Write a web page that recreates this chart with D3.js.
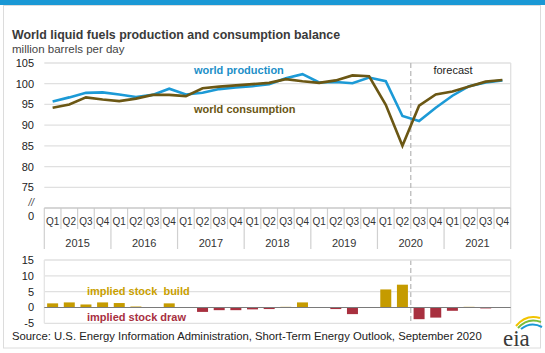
<!DOCTYPE html>
<html>
<head>
<meta charset="utf-8">
<script src="https://cdn.jsdelivr.net/npm/d3@7"></script>
<style>
  body { margin: 0; background: #fff; }
  svg { display: block; font-family: "Liberation Sans", Arial, sans-serif; }
</style>
</head>
<body>
<svg width="545" height="353"></svg>
<script>
// quarterly data, 2015 Q1 .. 2021 Q4
var years = ['2015', '2016', '2017', '2018', '2019', '2020', '2021'];
var quarterNames = ['Q1', 'Q2', 'Q3', 'Q4'];
var production = [95.7, 96.7, 97.8, 97.9, 97.4, 96.8, 97.3, 98.8, 97.4, 97.8, 98.7, 99.1, 99.4, 99.9,
                  101.3, 102.3, 100.3, 100.4, 100.1, 101.5, 100.6, 92.2, 91.0, 94.2, 97.1, 99.4, 100.3, 100.8];
var consumption = [94.2, 95.0, 96.7, 96.2, 95.8, 96.4, 97.3, 97.3, 97.0, 98.9, 99.3, 99.6, 99.9, 100.2,
                   101.1, 100.6, 100.2, 100.8, 102.0, 101.8, 94.9, 85.0, 94.7, 97.4, 98.1, 99.3, 100.5, 100.9];
var stockChange = [1.3, 1.6, 0.95, 1.6, 1.4, 0.3, 0.05, 1.3, 0.1, -1.4, -0.85, -0.85, -0.6, -0.5,
                   0.2, 1.6, -0.1, -0.5, -2.1, -0.1, 5.7, 7.2, -3.7, -3.2, -1.05, 0.2, -0.3, -0.1];
var topTicks = [75, 80, 85, 90, 95, 100, 105];
var bottomTicks = [-5, 0, 5, 10, 15];

var quarters = [];
years.forEach(function(y) {
    quarterNames.forEach(function(q) { quarters.push(y + q); });
});

var svg = d3.select('svg');
var left = 44.3, right = 510.7;

// frame
svg.append('rect').attr('x', 0).attr('y', 0).attr('width', 545).attr('height', 5).style('fill', '#1a98d5');
svg.append('rect').attr('x', 3.5).attr('y', 5.5).attr('width', 537).attr('height', 342.5)
    .style('fill', 'none').style('stroke', '#dcdcdc');

svg.append('text').attr('x', 12).attr('y', 39)
    .style('font-size', '12.4px').style('font-weight', 'bold').style('fill', '#3a3a3a')
    .text('World liquid fuels production and consumption balance');
svg.append('text').attr('x', 12).attr('y', 53)
    .style('font-size', '11.5px').style('fill', '#444')
    .text('million barrels per day');

var xScale = d3.scaleBand().domain(quarters).range([left, right]);
var xPoint = function(i) { return xScale(quarters[i]) + xScale.bandwidth() / 2; };

var yTop = d3.scaleLinear().domain([70, 105]).range([208, 63]);
var yBot = d3.scaleLinear().domain([-5, 15]).range([323.3, 260]);

// top grid
svg.append('g').selectAll('line')
    .data(topTicks)
    .enter()
    .append('line')
    .attr('x1', left).attr('x2', right)
    .attr('y1', function(d) { return yTop(d); })
    .attr('y2', function(d) { return yTop(d); })
    .style('stroke', '#e0e0e0').style('stroke-width', 1.3);

svg.append('line').attr('x1', right).attr('x2', right).attr('y1', yTop(105)).attr('y2', 208)
    .style('stroke', '#e0e0e0').style('stroke-width', 1.3);

svg.append('g').selectAll('text')
    .data(topTicks)
    .enter()
    .append('text')
    .attr('x', 34).attr('y', function(d) { return yTop(d) + 4; })
    .attr('text-anchor', 'end')
    .style('font-size', '11px').style('fill', '#222')
    .text(function(d) { return d; });

svg.append('text').attr('x', 34).attr('y', 206).attr('text-anchor', 'end')
    .style('font-size', '10px').style('font-style', 'italic').style('fill', '#444').text('//');
svg.append('text').attr('x', 34).attr('y', 220).attr('text-anchor', 'end')
    .style('font-size', '11px').style('fill', '#222').text('0');

// category axis
var axisG = svg.append('g');
d3.range(quarters.length + 1).forEach(function(i) {
    var x = i < quarters.length ? xScale(quarters[i]) : right;
    axisG.append('line').attr('x1', x).attr('x2', x)
        .attr('y1', 208).attr('y2', i % 4 === 0 ? 249 : 229)
        .style('stroke', '#d0d0d0').style('stroke-width', 1.2);
});
axisG.append('line').attr('x1', left).attr('x2', right).attr('y1', 208).attr('y2', 208)
    .style('stroke', '#c8c8c8').style('stroke-width', 1.3);
axisG.selectAll('text.q')
    .data(quarters)
    .enter()
    .append('text')
    .attr('class', 'q')
    .attr('x', function(d) { return xScale(d) + xScale.bandwidth() / 2; })
    .attr('y', 225)
    .attr('text-anchor', 'middle')
    .style('font-size', '10px').style('fill', '#333')
    .text(function(d) { return d.slice(4); });
axisG.selectAll('text.yr')
    .data(years)
    .enter()
    .append('text')
    .attr('class', 'yr')
    .attr('x', function(d) { return xScale(d + 'Q1') + xScale.bandwidth() * 2; })
    .attr('y', 247)
    .attr('text-anchor', 'middle')
    .style('font-size', '11px').style('fill', '#333')
    .text(function(d) { return d; });

// forecast divider
var fx = xScale('2020Q3');
svg.append('line').attr('x1', fx).attr('x2', fx).attr('y1', 63).attr('y2', 208)
    .style('stroke', '#bbb').style('stroke-width', 1.3).style('stroke-dasharray', '5,3');
svg.append('line').attr('x1', fx).attr('x2', fx).attr('y1', 260).attr('y2', 323)
    .style('stroke', '#bbb').style('stroke-width', 1.3).style('stroke-dasharray', '5,3');
svg.append('text').attr('x', 453).attr('y', 74).attr('text-anchor', 'middle')
    .style('font-size', '11px').style('fill', '#222').text('forecast');

// lines
var line = d3.line()
    .x(function(d, i) { return xPoint(i); })
    .y(function(d) { return yTop(d); });

svg.append('path').datum(production).attr('d', line)
    .style('fill', 'none').style('stroke', '#1c9ad6').style('stroke-width', 2.6);
svg.append('path').datum(consumption).attr('d', line)
    .style('fill', 'none').style('stroke', '#6b5714').style('stroke-width', 2.6);

svg.append('text').attr('x', 194).attr('y', 74)
    .style('font-size', '11px').style('font-weight', 'bold').style('fill', '#1c8fc8')
    .text('world production');
svg.append('text').attr('x', 194).attr('y', 113)
    .style('font-size', '11px').style('font-weight', 'bold').style('fill', '#6b5714')
    .text('world consumption');

// bottom panel
svg.append('g').selectAll('line')
    .data(bottomTicks.filter(function(d) { return d !== 0; }))
    .enter()
    .append('line')
    .attr('x1', left).attr('x2', right)
    .attr('y1', function(d) { return yBot(d); })
    .attr('y2', function(d) { return yBot(d); })
    .style('stroke', '#e0e0e0').style('stroke-width', 1.3);
svg.append('line').attr('x1', left).attr('x2', left).attr('y1', 260).attr('y2', 323.3)
    .style('stroke', '#e4e4e4').style('stroke-width', 1.3);
svg.append('line').attr('x1', right).attr('x2', right).attr('y1', 260).attr('y2', 323.3)
    .style('stroke', '#e0e0e0').style('stroke-width', 1.3);

svg.append('g').selectAll('text')
    .data(bottomTicks)
    .enter()
    .append('text')
    .attr('x', 34).attr('y', function(d) { return yBot(d) + 4; })
    .attr('text-anchor', 'end')
    .style('font-size', '11px').style('fill', '#222')
    .text(function(d) { return d; });

var barScale = d3.scaleBand().domain(quarters).range([left, right]).paddingInner(0.34).paddingOuter(0.17);

svg.append('g').selectAll('rect')
    .data(stockChange)
    .enter()
    .append('rect')
    .attr('x', function(d, i) { return barScale(quarters[i]); })
    .attr('width', barScale.bandwidth())
    .attr('y', function(d) { return yBot(Math.max(d, 0)); })
    .attr('height', function(d) { return Math.abs(yBot(d) - yBot(0)); })
    .style('fill', function(d) { return d >= 0 ? '#c59b00' : '#a8303f'; });

svg.append('line').attr('x1', left).attr('x2', right).attr('y1', yBot(0)).attr('y2', yBot(0))
    .style('stroke', '#7a7a7a').style('stroke-width', 1.2);

svg.append('text').attr('x', 87).attr('y', 295)
    .style('font-size', '11px').style('font-weight', 'bold').style('fill', '#c9a000')
    .attr('xml:space', 'preserve')
    .text('implied stock  build');
svg.append('text').attr('x', 87).attr('y', 320.5)
    .style('font-size', '11px').style('font-weight', 'bold').style('fill', '#a8303f')
    .text('implied stock draw');

svg.append('text').attr('x', 12).attr('y', 340)
    .style('font-size', '11.3px').style('fill', '#222')
    .text('Source: U.S. Energy Information Administration, Short-Term Energy Outlook, September 2020');

// eia logo
var logo = svg.append('g');
logo.append('path').attr('d', 'M516,326 Q526,314 540,318')
    .style('fill', 'none').style('stroke', '#f2c400').style('stroke-width', 2);
logo.append('path').attr('d', 'M518,328 Q528,317 541,322')
    .style('fill', 'none').style('stroke', '#7bbd3a').style('stroke-width', 2);
logo.append('path').attr('d', 'M521,329 Q531,321 542,327')
    .style('fill', 'none').style('stroke', '#1a98d5').style('stroke-width', 2);
logo.append('text').attr('x', 503).attr('y', 346)
    .style('font-family', '"Liberation Serif", serif').style('font-size', '23px').style('fill', '#3a3a3a')
    .text('eia');
</script>
</body>
</html>
